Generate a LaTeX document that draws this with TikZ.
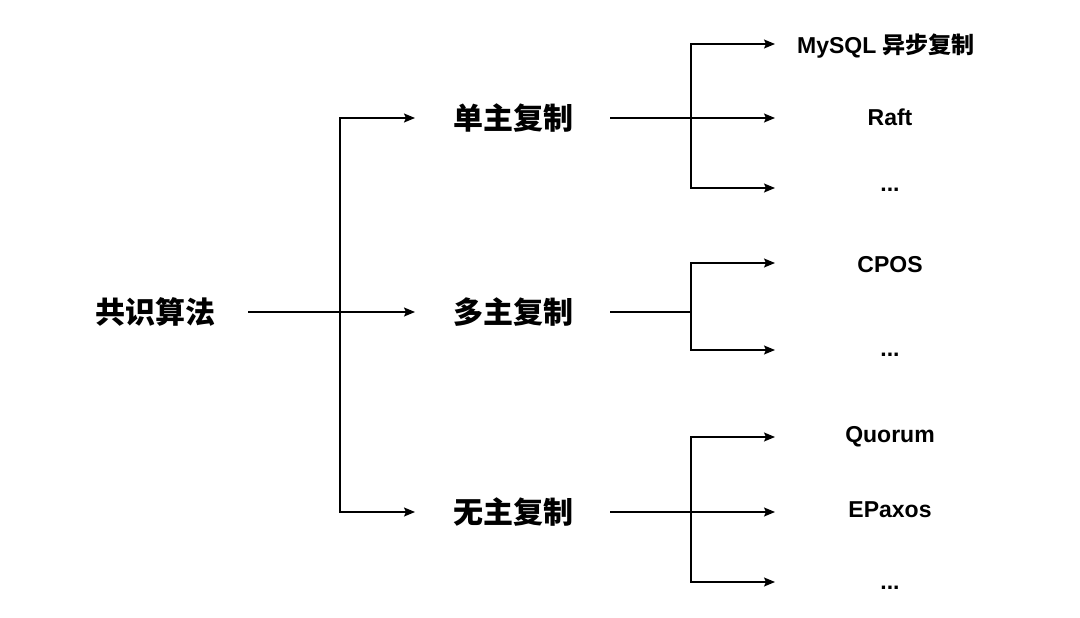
\documentclass[tikz,border=0pt]{standalone}
\usepackage{fontspec}
\setmainfont{Liberation Sans}
\newfontfamily\cjk{Noto Sans CJK SC}
\usetikzlibrary{arrows.meta}
\begin{document}
\begin{tikzpicture}[x=1pt,y=-1pt,
  cn/.style={font=\cjk\bfseries\fontsize{30}{32}\selectfont},
  lf/.style={font=\bfseries\fontsize{23}{26}\selectfont},
  ln/.style={line width=1.4pt,black},
  ar/.style={ln,-{Stealth[length=11pt,width=9pt,inset=2pt]}}]
\useasboundingbox (0,0) rectangle (1080,618);
\node[cn] (root) at (155,312) {共识算法};
\node[cn] (a) at (513,118) {单主复制};
\node[cn] (b) at (513,312) {多主复制};
\node[cn] (c) at (513,512) {无主复制};
\node[lf] (a1) at (886,46) {MySQL {\cjk 异步复制}};
\node[lf] (a2) at (890,117) {Raft};
\node[lf] (a3) at (890,190) {...};
\node[lf] (b1) at (890,265) {CPOS};
\node[lf] (b2) at (890,355) {...};
\node[lf] (c1) at (890,437) {Quorum};
\node[lf] (c2) at (890,510) {EPaxos};
\node[lf] (c3) at (890,588) {...};
\coordinate (r0) at (248,312);
\coordinate (rj) at (340,312);
\draw[ar] (r0) -- (415,312);
\draw[ar] (rj) |- (415,118);
\draw[ar] (rj) |- (415,512);
\coordinate (a0) at (610,118); \coordinate (aj) at (691,118);
\draw[ar] (a0) -- (775,118);
\draw[ar] (aj) |- (775,44);
\draw[ar] (aj) |- (775,188);
\coordinate (b0) at (610,312); \coordinate (bj) at (691,312);
\draw[ln] (b0) -- (bj);
\draw[ar] (bj) |- (775,263);
\draw[ar] (bj) |- (775,350);
\coordinate (c0) at (610,512); \coordinate (cj) at (691,512);
\draw[ar] (c0) -- (775,512);
\draw[ar] (cj) |- (775,437);
\draw[ar] (cj) |- (775,582);
\end{tikzpicture}
\end{document}
